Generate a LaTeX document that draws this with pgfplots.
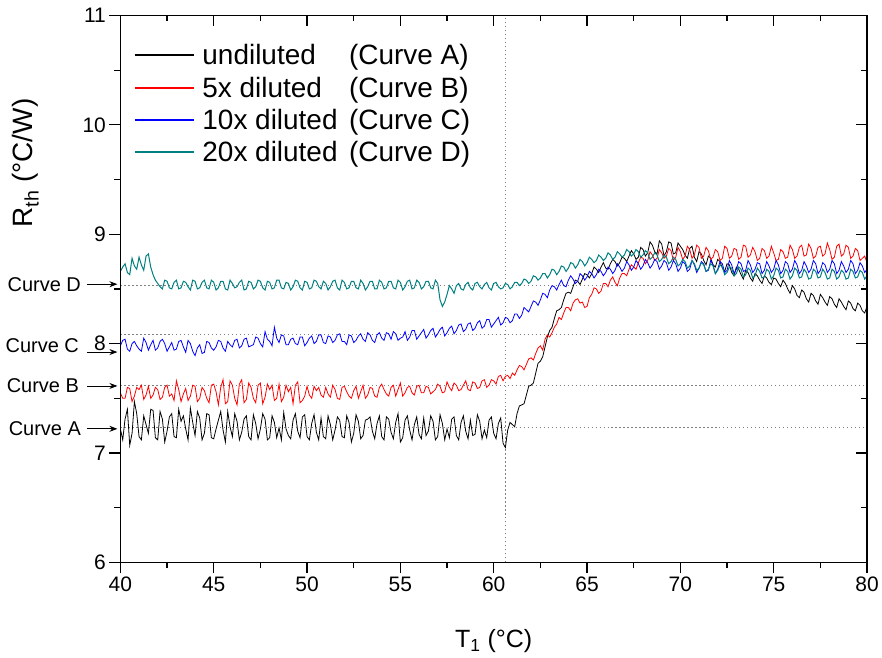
\documentclass[border=0pt]{standalone}
\usepackage{pgfplots}
\usepackage{pgfplotstable}
\pgfplotsset{compat=1.18}
\usetikzlibrary{arrows.meta}
\usepackage{fontspec}
\setmainfont{Liberation Sans}
\definecolor{tealc}{RGB}{0,128,128}

\pgfplotstableread{
x A B C D
40.000 7.22 7.55 7.98 8.66
40.125 7.12 7.50 8.03 8.70
40.250 7.31 7.50 8.04 8.73
40.375 7.40 7.60 7.95 8.65
40.500 7.07 7.59 7.93 8.63
40.625 7.18 7.47 8.00 8.78
40.750 7.47 7.52 8.02 8.71
40.875 7.36 7.60 7.98 8.68
41.000 7.15 7.58 7.95 8.79
41.125 7.12 7.62 7.93 8.72
41.250 7.34 7.49 8.05 8.67
41.375 7.26 7.53 8.01 8.80
41.500 7.18 7.61 7.94 8.82
41.625 7.40 7.50 7.99 8.70
41.750 7.39 7.53 8.03 8.63
41.875 7.14 7.60 7.94 8.58
42.000 7.12 7.58 7.96 8.55
42.125 7.38 7.49 8.02 8.52
42.250 7.31 7.51 8.04 8.50
42.375 7.10 7.60 8.00 8.58
42.500 7.20 7.62 7.93 8.57
42.625 7.33 7.52 7.97 8.51
42.750 7.36 7.54 8.01 8.50
42.875 7.15 7.48 7.94 8.56
43.000 7.14 7.66 7.95 8.58
43.125 7.40 7.58 8.02 8.50
43.250 7.29 7.47 8.03 8.51
43.375 7.34 7.54 7.97 8.57
43.500 7.22 7.59 7.92 8.56
43.625 7.12 7.48 8.03 8.52
43.750 7.41 7.52 8.00 8.49
43.875 7.28 7.62 7.93 8.58
44.000 7.16 7.61 7.89 8.57
44.125 7.38 7.47 7.96 8.50
44.250 7.32 7.50 7.99 8.51
44.375 7.12 7.60 7.91 8.56
44.500 7.18 7.57 7.92 8.58
44.625 7.36 7.50 8.02 8.51
44.750 7.35 7.46 8.01 8.50
44.875 7.14 7.62 7.96 8.58
45.000 7.13 7.63 7.94 8.56
45.125 7.22 7.56 7.97 8.49
45.250 7.30 7.44 8.03 8.51
45.375 7.38 7.60 8.02 8.57
45.500 7.21 7.67 7.96 8.57
45.625 7.10 7.45 7.93 8.50
45.750 7.38 7.47 8.02 8.49
45.875 7.24 7.66 7.99 8.58
46.000 7.15 7.62 7.97 8.55
46.125 7.36 7.50 8.03 8.51
46.250 7.29 7.44 8.04 8.52
46.375 7.12 7.63 7.96 8.56
46.500 7.19 7.67 7.98 8.58
46.625 7.31 7.46 8.04 8.49
46.750 7.34 7.49 8.05 8.50
46.875 7.15 7.64 7.97 8.57
47.000 7.12 7.60 7.98 8.56
47.125 7.35 7.50 7.99 8.50
47.250 7.27 7.46 8.06 8.52
47.375 7.13 7.62 8.05 8.58
47.500 7.22 7.64 8.00 8.57
47.625 7.36 7.45 7.97 8.51
47.750 7.31 7.51 8.11 8.49
47.875 7.12 7.63 8.04 8.57
48.000 7.14 7.58 8.02 8.56
48.125 7.34 7.62 7.98 8.50
48.250 7.28 7.48 8.15 8.51
48.375 7.14 7.50 8.05 8.58
48.500 7.23 7.63 8.01 8.58
48.625 7.12 7.47 8.08 8.51
48.750 7.37 7.51 8.07 8.50
48.875 7.22 7.62 7.99 8.56
49.000 7.16 7.56 7.99 8.55
49.125 7.13 7.60 8.04 8.49
49.250 7.30 7.45 8.05 8.52
49.375 7.36 7.62 8.00 8.58
49.500 7.20 7.65 7.99 8.57
49.625 7.14 7.46 8.06 8.51
49.750 7.33 7.48 8.06 8.49
49.875 7.35 7.52 7.98 8.57
50.000 7.15 7.61 8.01 8.56
50.125 7.12 7.53 8.05 8.50
50.250 7.27 7.50 8.07 8.51
50.375 7.35 7.61 8.00 8.58
50.500 7.19 7.57 8.02 8.57
50.625 7.12 7.60 8.08 8.52
50.750 7.32 7.53 8.08 8.50
50.875 7.15 7.51 8.01 8.57
51.000 7.13 7.60 8.00 8.55
51.125 7.34 7.54 8.07 8.49
51.250 7.26 7.51 8.06 8.52
51.375 7.12 7.62 8.01 8.57
51.500 7.21 7.58 8.03 8.58
51.625 7.33 7.50 8.08 8.51
51.750 7.30 7.49 8.09 8.49
51.875 7.15 7.60 8.02 8.58
52.000 7.14 7.61 8.02 8.56
52.125 7.34 7.56 7.99 8.50
52.250 7.28 7.52 8.08 8.51
52.375 7.10 7.50 8.07 8.57
52.500 7.18 7.57 8.01 8.57
52.625 7.35 7.61 8.03 8.51
52.750 7.29 7.50 8.07 8.50
52.875 7.13 7.56 8.09 8.58
53.000 7.16 7.62 8.04 8.55
53.125 7.30 7.50 8.02 8.49
53.250 7.31 7.53 8.10 8.52
53.375 7.33 7.60 8.08 8.57
53.500 7.20 7.59 8.03 8.57
53.625 7.13 7.52 8.01 8.50
53.750 7.27 7.51 8.08 8.50
53.875 7.34 7.60 8.10 8.58
54.000 7.15 7.63 8.05 8.56
54.125 7.12 7.58 8.03 8.50
54.250 7.33 7.54 8.10 8.51
54.375 7.31 7.52 8.09 8.57
54.500 7.19 7.60 8.04 8.57
54.625 7.13 7.62 8.11 8.51
54.750 7.28 7.52 8.09 8.50
54.875 7.36 7.58 8.03 8.58
55.000 7.10 7.64 8.05 8.56
55.125 7.14 7.52 8.06 8.49
55.250 7.30 7.55 8.11 8.52
55.375 7.34 7.60 8.03 8.57
55.500 7.21 7.61 8.06 8.58
55.625 7.12 7.55 8.12 8.50
55.750 7.26 7.53 8.12 8.51
55.875 7.33 7.61 8.04 8.58
56.000 7.17 7.62 8.07 8.56
56.125 7.13 7.55 8.10 8.50
56.250 7.32 7.55 8.13 8.52
56.375 7.16 7.61 8.05 8.57
56.500 7.20 7.60 8.08 8.57
56.625 7.34 7.54 8.12 8.51
56.750 7.29 7.56 8.14 8.50
56.875 7.12 7.58 8.06 8.58
57.000 7.15 7.63 8.09 8.55
57.125 7.35 7.61 8.13 8.40
57.250 7.27 7.55 8.15 8.34
57.375 7.12 7.56 8.07 8.38
57.500 7.22 7.65 8.10 8.45
57.625 7.14 7.60 8.14 8.53
57.750 7.31 7.57 8.16 8.50
57.875 7.33 7.64 8.09 8.46
58.000 7.16 7.62 8.12 8.53
58.125 7.12 7.57 8.17 8.55
58.250 7.28 7.58 8.18 8.50
58.375 7.34 7.62 8.11 8.49
58.500 7.20 7.66 8.13 8.54
58.625 7.13 7.58 8.18 8.56
58.750 7.30 7.57 8.19 8.51
58.875 7.16 7.65 8.12 8.49
59.000 7.17 7.64 8.14 8.55
59.125 7.35 7.59 8.19 8.56
59.250 7.29 7.60 8.21 8.52
59.375 7.13 7.66 8.14 8.50
59.500 7.21 7.67 8.16 8.54
59.625 7.14 7.60 8.22 8.56
59.750 7.30 7.62 8.22 8.51
59.875 7.33 7.67 8.15 8.49
60.000 7.18 7.66 8.18 8.55
60.125 7.13 7.63 8.21 8.56
60.250 7.27 7.70 8.24 8.52
60.375 7.32 7.71 8.17 8.50
60.500 7.09 7.66 8.19 8.51
60.625 7.05 7.70 8.24 8.55
60.750 7.21 7.71 8.23 8.54
60.875 7.28 7.68 8.19 8.50
61.000 7.26 7.73 8.21 8.52
61.125 7.24 7.71 8.27 8.56
61.250 7.36 7.76 8.27 8.56
61.375 7.43 7.80 8.23 8.53
61.500 7.44 7.79 8.26 8.55
61.625 7.45 7.76 8.33 8.59
61.750 7.53 7.81 8.31 8.58
61.875 7.61 7.86 8.29 8.55
62.000 7.62 7.87 8.34 8.57
62.125 7.64 7.85 8.39 8.62
62.250 7.73 7.91 8.38 8.61
62.375 7.82 7.96 8.35 8.58
62.500 7.84 7.98 8.40 8.60
62.625 7.88 7.94 8.46 8.64
62.750 7.97 8.04 8.45 8.64
62.875 8.06 8.08 8.42 8.60
63.000 8.12 8.06 8.49 8.63
63.125 8.15 8.10 8.53 8.68
63.250 8.23 8.15 8.52 8.67
63.375 8.30 8.18 8.49 8.63
63.500 8.31 8.24 8.54 8.66
63.625 8.33 8.22 8.58 8.71
63.750 8.40 8.28 8.53 8.70
63.875 8.46 8.33 8.52 8.66
64.000 8.47 8.33 8.58 8.69
64.125 8.46 8.30 8.62 8.74
64.250 8.52 8.37 8.59 8.73
64.375 8.58 8.40 8.55 8.69
64.500 8.57 8.41 8.57 8.72
64.625 8.54 8.37 8.64 8.77
64.750 8.59 8.38 8.62 8.75
64.875 8.64 8.33 8.58 8.71
65.000 8.63 8.34 8.61 8.74
65.125 8.60 8.42 8.66 8.79
65.250 8.64 8.45 8.64 8.77
65.375 8.70 8.51 8.60 8.74
65.500 8.68 8.50 8.63 8.76
65.625 8.65 8.46 8.68 8.81
65.750 8.70 8.48 8.66 8.79
65.875 8.74 8.55 8.62 8.76
66.000 8.69 8.55 8.65 8.78
66.125 8.68 8.52 8.70 8.83
66.250 8.73 8.58 8.68 8.81
66.375 8.77 8.61 8.64 8.77
66.500 8.75 8.56 8.67 8.79
66.625 8.71 8.53 8.73 8.84
66.750 8.74 8.60 8.70 8.82
66.875 8.79 8.64 8.66 8.79
67.000 8.78 8.64 8.69 8.81
67.125 8.75 8.62 8.75 8.86
67.250 8.80 8.68 8.72 8.84
67.375 8.85 8.72 8.67 8.80
67.500 8.82 8.70 8.70 8.82
67.625 8.77 8.68 8.76 8.86
67.750 8.79 8.74 8.73 8.84
67.875 8.88 8.79 8.68 8.79
68.000 8.86 8.78 8.71 8.81
68.125 8.80 8.73 8.77 8.85
68.250 8.83 8.76 8.74 8.83
68.375 8.93 8.84 8.69 8.77
68.500 8.90 8.81 8.72 8.79
68.625 8.84 8.76 8.77 8.83
68.750 8.82 8.78 8.75 8.81
68.875 8.94 8.86 8.68 8.75
69.000 8.91 8.83 8.71 8.77
69.125 8.80 8.78 8.76 8.81
69.250 8.84 8.80 8.74 8.79
69.375 8.93 8.87 8.67 8.73
69.500 8.92 8.85 8.70 8.75
69.625 8.82 8.76 8.76 8.79
69.750 8.83 8.79 8.73 8.77
69.875 8.92 8.88 8.66 8.71
70.000 8.89 8.84 8.69 8.73
70.125 8.86 8.77 8.75 8.77
70.250 8.81 8.80 8.73 8.75
70.375 8.78 8.89 8.66 8.69
70.500 8.87 8.86 8.68 8.71
70.625 8.89 8.78 8.76 8.76
70.750 8.79 8.81 8.72 8.73
70.875 8.75 8.90 8.65 8.67
71.000 8.84 8.88 8.69 8.69
71.125 8.82 8.78 8.75 8.74
71.250 8.76 8.80 8.73 8.72
71.375 8.72 8.88 8.66 8.66
71.500 8.80 8.85 8.67 8.68
71.625 8.78 8.77 8.76 8.73
71.750 8.72 8.79 8.72 8.71
71.875 8.70 8.86 8.64 8.64
72.000 8.77 8.84 8.68 8.67
72.125 8.75 8.76 8.75 8.72
72.250 8.69 8.78 8.73 8.70
72.375 8.66 8.89 8.65 8.63
72.500 8.73 8.87 8.67 8.65
72.625 8.72 8.78 8.76 8.70
72.750 8.65 8.80 8.72 8.69
72.875 8.62 8.87 8.64 8.62
73.000 8.70 8.86 8.68 8.64
73.125 8.68 8.77 8.75 8.70
73.250 8.63 8.79 8.73 8.68
73.375 8.59 8.90 8.66 8.61
73.500 8.67 8.89 8.67 8.63
73.625 8.65 8.79 8.76 8.69
73.750 8.60 8.81 8.72 8.67
73.875 8.57 8.88 8.65 8.60
74.000 8.64 8.84 8.68 8.62
74.125 8.62 8.76 8.74 8.69
74.250 8.58 8.78 8.73 8.66
74.375 8.55 8.87 8.64 8.60
74.500 8.62 8.85 8.67 8.61
74.625 8.60 8.78 8.75 8.68
74.750 8.56 8.80 8.71 8.66
74.875 8.54 8.89 8.65 8.59
75.000 8.60 8.83 8.68 8.62
75.125 8.59 8.76 8.76 8.69
75.250 8.55 8.77 8.72 8.67
75.375 8.52 8.86 8.64 8.60
75.500 8.58 8.84 8.67 8.61
75.625 8.55 8.78 8.75 8.68
75.750 8.50 8.79 8.73 8.66
75.875 8.46 8.90 8.65 8.59
76.000 8.53 8.86 8.68 8.62
76.125 8.50 8.78 8.76 8.69
76.250 8.44 8.80 8.72 8.67
76.375 8.42 8.88 8.64 8.60
76.500 8.49 8.90 8.67 8.61
76.625 8.47 8.80 8.75 8.68
76.750 8.41 8.81 8.71 8.65
76.875 8.38 8.91 8.65 8.59
77.000 8.46 8.87 8.68 8.60
77.125 8.44 8.78 8.76 8.68
77.250 8.39 8.80 8.73 8.66
77.375 8.36 8.88 8.64 8.60
77.500 8.45 8.89 8.67 8.61
77.625 8.42 8.80 8.74 8.68
77.750 8.38 8.82 8.72 8.65
77.875 8.35 8.92 8.65 8.59
78.000 8.43 8.86 8.68 8.60
78.125 8.41 8.77 8.76 8.68
78.250 8.36 8.79 8.73 8.66
78.375 8.33 8.89 8.64 8.59
78.500 8.41 8.91 8.67 8.61
78.625 8.38 8.80 8.75 8.67
78.750 8.34 8.82 8.71 8.65
78.875 8.31 8.90 8.65 8.59
79.000 8.39 8.88 8.68 8.60
79.125 8.37 8.78 8.76 8.68
79.250 8.32 8.80 8.73 8.66
79.375 8.30 8.87 8.64 8.60
79.500 8.37 8.85 8.67 8.61
79.625 8.35 8.76 8.74 8.67
79.750 8.30 8.78 8.71 8.65
79.875 8.28 8.80 8.65 8.59
80.000 8.34 8.74 8.68 8.62
}\datatable

\begin{document}
\begin{tikzpicture}
\pgfplotsset{
  common/.style={
    scale only axis, width=748pt, height=548pt,
    xmin=40, xmax=80, ymin=6, ymax=11,
    xtick={40,45,...,80}, ytick={6,7,...,11},
    minor x tick num=1, minor y tick num=1,
    major tick length=11pt, minor tick length=6pt,
    major tick style={black, line width=1.2pt},
    minor tick style={black, line width=1.2pt},
    axis line style={line width=1.2pt},
  }
}
\begin{axis}[
  common,
  xtick pos=bottom, ytick pos=left,
  tick align=outside,
  clip=false,
  tick label style={font=\fontsize{21}{24}\selectfont},
  /pgf/number format/assume math mode=true,
  xlabel={T\textsubscript{1} (°C)},
  ylabel={R\textsubscript{th} (°C/W)},
  xlabel style={font=\fontsize{25}{28}\selectfont, yshift=-31pt},
  ylabel style={font=\fontsize{28}{32}\selectfont, at={(ticklabel cs:0.73)}, yshift=37pt},
  legend style={at={(rel axis cs:0,1)}, anchor=north west, xshift=10pt, yshift=-25pt,
    draw=none, fill=none, font=\fontsize{28}{32}\selectfont, row sep=6.5pt,
    /tikz/every odd column/.append style={column sep=5pt}},
  legend cell align=left,
  legend image code/.code={\draw[#1, line width=2pt] (0pt,0pt) -- (60pt,0pt);},
]
\path (axis cs:33.55,5.134) rectangle (axis cs:80.71,11.141);
\addplot[gray, line width=0.9pt, dash pattern=on 1.2pt off 2.8pt, forget plot] coordinates {(40,8.53) (80,8.53)};
\addplot[gray, line width=0.9pt, dash pattern=on 1.2pt off 2.8pt, forget plot] coordinates {(40,8.08) (80,8.08)};
\addplot[gray, line width=0.9pt, dash pattern=on 1.2pt off 2.8pt, forget plot] coordinates {(40,7.62) (80,7.62)};
\addplot[gray, line width=0.9pt, dash pattern=on 1.2pt off 2.8pt, forget plot] coordinates {(40,7.23) (80,7.23)};
\addplot[gray, line width=0.9pt, dash pattern=on 1.2pt off 2.8pt, forget plot] coordinates {(60.64,6) (60.64,11)};
\addplot[color=black, line width=0.8pt] table[x=x, y=A] {\datatable};
\addlegendentry{\makebox[147pt][l]{undiluted}(Curve A)}
\addplot[color=red, line width=0.8pt] table[x=x, y=B] {\datatable};
\addlegendentry{\makebox[147pt][l]{5x diluted}(Curve B)}
\addplot[color=blue, line width=0.8pt] table[x=x, y=C] {\datatable};
\addlegendentry{\makebox[147pt][l]{10x diluted}(Curve C)}
\addplot[color=tealc, line width=1pt] table[x=x, y=D] {\datatable};
\addlegendentry{\makebox[147pt][l]{20x diluted}(Curve D)}
% left annotations
\begin{scope}[font=\fontsize{20}{23}\selectfont]
\node[anchor=east] at ([xshift=-36pt]axis cs:40,8.543) {Curve D};
\draw[-{Stealth[length=8pt,width=6pt]}, line width=0.8pt] ([xshift=-33pt]axis cs:40,8.543) -- ([xshift=-3pt]axis cs:40,8.543);
\node[anchor=east] at ([xshift=-38pt]axis cs:40,7.978) {Curve C};
\draw[-{Stealth[length=8pt,width=6pt]}, line width=0.8pt] ([xshift=-33pt]axis cs:40,7.923) -- ([xshift=-3pt]axis cs:40,7.923);
\node[anchor=east] at ([xshift=-38pt]axis cs:40,7.613) {Curve B};
\draw[-{Stealth[length=8pt,width=6pt]}, line width=0.8pt] ([xshift=-33pt]axis cs:40,7.613) -- ([xshift=-3pt]axis cs:40,7.613);
\node[anchor=east] at ([xshift=-36pt]axis cs:40,7.221) {Curve A};
\draw[-{Stealth[length=8pt,width=6pt]}, line width=0.8pt] ([xshift=-33pt]axis cs:40,7.221) -- ([xshift=-3pt]axis cs:40,7.221);
\end{scope}
\end{axis}
\begin{axis}[
  common,
  xtick pos=top, ytick pos=right,
  tick align=inside,
  xticklabels={}, yticklabels={},
]
\end{axis}
\end{tikzpicture}
\end{document}
